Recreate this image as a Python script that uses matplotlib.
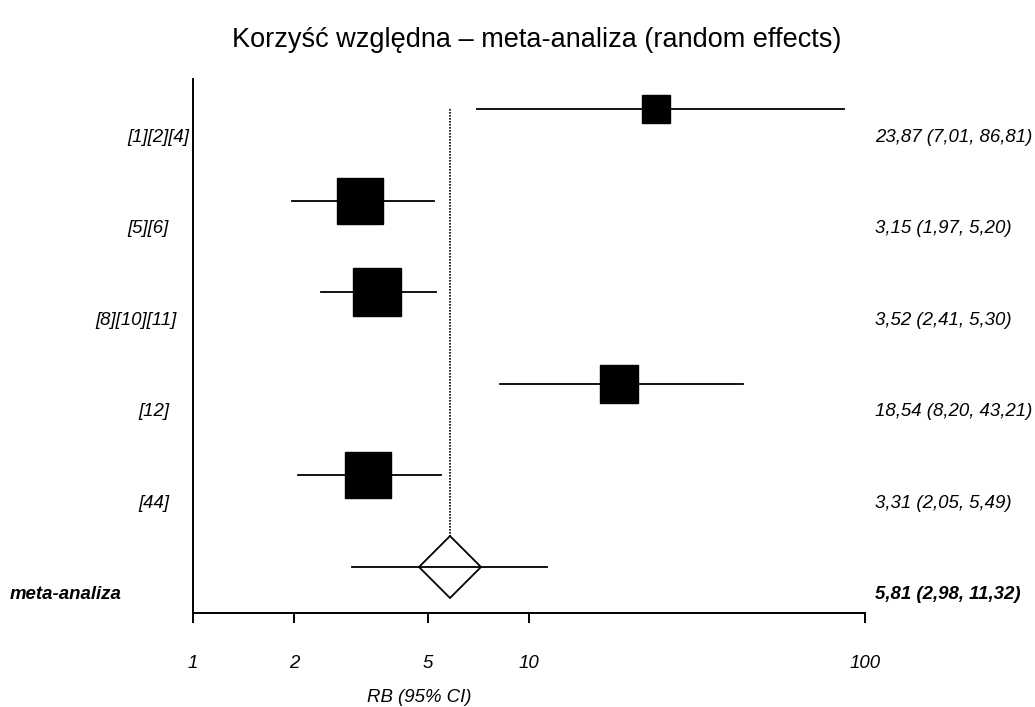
import matplotlib
matplotlib.use('Agg')
import matplotlib.pyplot as plt
import numpy as np

# study rows (top to bottom), last row is the pooled estimate
labels = ['[1][2][4]', '[5][6]', '[8][10][11]', '[12]', '[44]', 'meta-analiza']
rb = [23.87, 3.15, 3.52, 18.54, 3.31, 5.81]
ci_low = [7.01, 1.97, 2.41, 8.20, 2.05, 2.98]
ci_high = [86.81, 5.20, 5.30, 43.21, 5.49, 11.32]
value_text = ['23,87 (7,01, 86,81)', '3,15 (1,97, 5,20)', '3,52 (2,41, 5,30)',
              '18,54 (8,20, 43,21)', '3,31 (2,05, 5,49)', '5,81 (2,98, 11,32)']
xticks = [1, 2, 5, 10, 100]
xtick_labels = ['1', '2', '5', '10', '100']

# box size (pixels) of each study marker
box_px = [28, 47, 48, 38, 46]
# left-edge position of row labels (pixels), they are not aligned in the original
label_left_px = [127, 127, 95, 138, 138, 10]

W, H = 1035, 707
plt.rcParams['font.family'] = ['Liberation Sans', 'DejaVu Sans']
fs = 13.4

fig = plt.figure(figsize=(W / 100, H / 100), dpi=100)
ax = fig.add_axes([193 / W, 1 - 612.7 / H, (865 - 193) / W, (612.7 - 79) / H])

n = len(rb)
rows = np.arange(n)
lw = 1.3

for i in range(n - 1):
    ax.plot([ci_low[i], ci_high[i]], [rows[i], rows[i]], color='black', lw=lw, zorder=2)
    ax.plot(rb[i], rows[i], marker='s', ms=box_px[i] * 0.72, color='black',
            mec='black', zorder=3)

# pooled estimate: diamond + CI line through it
k = n - 1
ax.plot([ci_low[k], ci_high[k]], [rows[k], rows[k]], color='black', lw=lw, zorder=4)
ax.plot(rb[k], rows[k], marker='D', ms=31.5, mfc='white', mec='black', mew=lw, zorder=3)

# dotted line at pooled value
diamond_half = 30 / 91.6
ax.plot([rb[k], rb[k]], [rows[0], rows[k] - diamond_half], color='black',
        lw=1.2, ls=(0, (1, 0.8)), zorder=1)

ax.set_xscale('log')
ax.set_xlim(1, 100)
ax.set_ylim(5.5, -0.33)

ax.spines['top'].set_visible(False)
ax.spines['right'].set_visible(False)
ax.spines['left'].set_linewidth(1.4)
ax.spines['bottom'].set_linewidth(1.4)
ax.set_yticks([])
ax.set_xticks(xticks)
ax.set_xticklabels(xtick_labels, fontsize=fs, style='italic')
ax.xaxis.set_minor_locator(matplotlib.ticker.NullLocator())
ax.tick_params(axis='x', direction='out', length=7.5, width=1.4, pad=23)

# row labels and values, sitting a bit below each marker
off = 28 / 91.6
trans = matplotlib.transforms.blended_transform_factory(fig.transFigure, ax.transData)
for i in range(n):
    bold = 'bold' if i == n - 1 else 'normal'
    ax.text(label_left_px[i] / W, rows[i] + off, labels[i], transform=trans,
            ha='left', va='center', fontsize=fs, style='italic', weight=bold)
    ax.text(875 / W, rows[i] + off, value_text[i], transform=trans,
            ha='left', va='center', fontsize=fs, style='italic', weight=bold)

fig.text(419 / W, 1 - 697 / H, 'RB (95% CI)', ha='center', va='center',
         fontsize=fs, style='italic')
fig.text(537 / W, 1 - 40 / H, 'Korzyść względna – meta-analiza (random effects)',
         ha='center', va='center', fontsize=19.5)

fig.savefig('out.png', dpi=100)
